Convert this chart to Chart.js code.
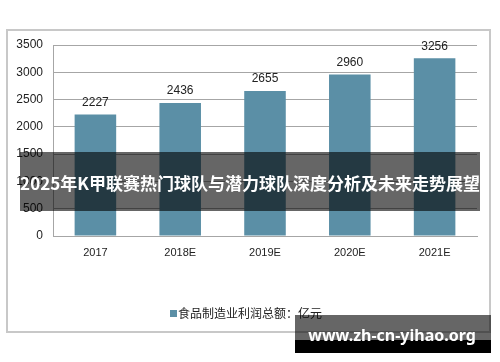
<!DOCTYPE html>
<html>
<head>
<meta charset="utf-8">
<script src="https://cdn.jsdelivr.net/npm/chart.js@4/dist/chart.umd.min.js"></script>
<style>
html,body{margin:0;padding:0;background:#fff;}
#wrap{width:500px;height:362px;position:relative;}
</style>
</head>
<body>
<div id="wrap"><canvas id="c" width="500" height="362"></canvas></div>
<script>
const categories = ["2017", "2018E", "2019E", "2020E", "2021E"];
const profitValues = [2227, 2436, 2655, 2960, 3256];
const seriesName = "食品制造业利润总额：亿元";
const yTicks = [0, 500, 1000, 1500, 2000, 2500, 3000, 3500];
const titleText = "2025年K甲联赛热门球队与潜力球队深度分析及未来走势展望";
const watermarkText = "www.zh-cn-yihao.org";

const barColor = "#5b8fa6";
const latin = "'Liberation Sans', Arial, sans-serif";
const cjk = "'Noto Sans CJK SC', 'Noto Sans', sans-serif";

const decor = {
  id: "decor",
  beforeDraw(chart) {
    const ctx = chart.ctx;
    ctx.save();
    ctx.fillStyle = "#fff";
    ctx.fillRect(0, 0, 500, 362);
    ctx.strokeStyle = "#c8c8c8";
    ctx.lineWidth = 2;
    ctx.strokeRect(7, 30, 483, 302);
    ctx.restore();
  },
  afterDatasetsDraw(chart) {
    const ctx = chart.ctx;
    const meta = chart.getDatasetMeta(0);
    ctx.save();
    ctx.font = "12px " + latin;
    ctx.fillStyle = "#222";
    ctx.textAlign = "center";
    ctx.textBaseline = "middle";
    meta.data.forEach((bar, i) => {
      ctx.fillText(String(chart.data.datasets[0].data[i]), bar.x, bar.y - 12);
    });
    ctx.restore();
  },
  afterDraw(chart) {
    const ctx = chart.ctx;
    ctx.save();
    // legend
    ctx.font = "12px " + cjk;
    ctx.textBaseline = "middle";
    ctx.textAlign = "left";
    ctx.fillStyle = barColor;
    ctx.fillRect(170, 310, 7, 7);
    ctx.fillStyle = "#222";
    ctx.fillText(chart.data.datasets[0].label, 178, 313);
    // title band
    ctx.fillStyle = "rgba(0,0,0,0.6)";
    ctx.fillRect(20, 152, 460, 59);
    ctx.fillStyle = "#fff";
    ctx.font = "bold 17px " + cjk;
    ctx.textAlign = "center";
    ctx.fillText(titleText, 250, 184);
    // watermark
    ctx.fillStyle = "rgba(0,0,0,0.6)";
    ctx.fillRect(295, 315, 196, 25);
    ctx.fillStyle = "#000";
    ctx.fillRect(295, 340, 196, 13);
    ctx.fillStyle = "#fff";
    ctx.font = "bold 16px 'Noto Sans', 'DejaVu Sans', sans-serif";
    ctx.textAlign = "center";
    ctx.fillText(watermarkText, 392, 336);
    ctx.restore();
  }
};

new Chart(document.getElementById("c"), {
  type: "bar",
  data: {
    labels: categories,
    datasets: [{
      label: seriesName,
      data: profitValues,
      backgroundColor: barColor,
      borderWidth: 0,
      categoryPercentage: 1,
      barPercentage: 0.49
    }]
  },
  options: {
    responsive: false,
    animation: false,
    devicePixelRatio: 1,
    layout: { padding: { top: 45, left: 0, right: 23, bottom: 96 } },
    plugins: { legend: { display: false }, tooltip: { enabled: false }, title: { display: false } },
    scales: {
      x: {
        grid: { display: false, drawTicks: false },
        border: { display: true, color: "#a6a6a6", width: 1 },
        ticks: { color: "#222", font: { family: latin, size: 11 }, padding: 10, maxRotation: 0 },
        afterFit(s) { s.height = 30; }
      },
      y: {
        min: 0, max: 3500,
        afterBuildTicks(s) { s.ticks = yTicks.map(v => ({ value: v })); },
        grid: { color: "#a6a6a6", drawTicks: false, lineWidth: 1 },
        border: { display: true, color: "#a6a6a6", width: 1 },
        ticks: { color: "#222", font: { family: latin, size: 12 }, padding: 10, callback: v => String(v) },
        afterFit(s) { s.width = 53; }
      }
    }
  },
  plugins: [decor]
});
</script>
</body>
</html>
